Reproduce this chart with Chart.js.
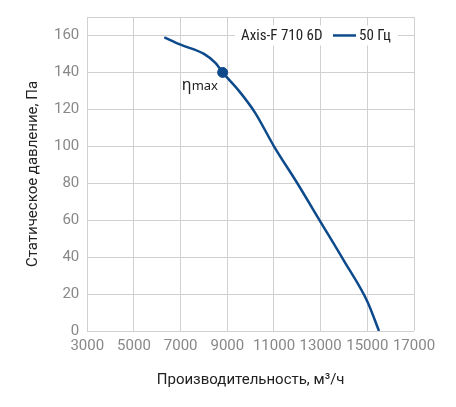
<!DOCTYPE html>
<html>
<head>
<meta charset="utf-8">
<script src="https://cdn.jsdelivr.net/npm/chart.js@4"></script>
<style>
body { margin: 0; background: #fff; }
#wrap { width: 456px; height: 407px; }
</style>
</head>
<body>
<div id="wrap"><canvas id="chart"></canvas></div>
<script>
const flowValues = [6300, 7000, 8000, 8500, 8800, 9500, 10200, 11000, 12000, 13000, 14000, 15000, 15500];
const pressureValues = [159, 155, 150, 145, 140, 130, 118, 100, 80, 59, 38, 16, 0];
const etaPoint = { x: 8800, y: 140 };
const seriesName = 'Axis-F 710 6D';
const seriesLabel = '50 Гц';

const overlay = {
  id: 'overlay',
  afterDatasetsDraw(chart) {
    const ctx = chart.ctx;
    const xs = chart.scales.x, ys = chart.scales.y;
    ctx.save();
    ctx.fillStyle = '#222';
    ctx.font = '16px "Noto Sans"';
    ctx.textBaseline = 'middle';
    const ex = xs.getPixelForValue(etaPoint.x), ey = ys.getPixelForValue(etaPoint.y);
    ctx.fillText('η', ex - 41, ey + 13);
    ctx.font = '13px "Noto Sans"';
    ctx.fillText('max', ex - 31, ey + 14);
    const ly = ys.getPixelForValue(160);
    ctx.fillStyle = '#fff';
    ctx.fillRect(235, ly - 10, 163, 20);
    ctx.fillStyle = '#222';
    ctx.font = '15px "Roboto Condensed", "Liberation Sans Narrow", Roboto';
    ctx.fillText(seriesName, 241, ly + 1);
    ctx.strokeStyle = '#0d4a8c';
    ctx.lineWidth = 2.5;
    ctx.beginPath();
    ctx.moveTo(333, ly); ctx.lineTo(356, ly); ctx.stroke();
    ctx.fillText(seriesLabel, 359, ly + 1);
    ctx.restore();
  }
};

new Chart(document.getElementById('chart'), {
  type: 'scatter',
  data: {
    datasets: [{
      data: flowValues.map((x, i) => ({ x, y: pressureValues[i] })),
      showLine: true,
      borderColor: '#0d4a8c',
      borderWidth: 2.5,
      pointRadius: 0,
      cubicInterpolationMode: 'monotone'
    }, {
      data: [etaPoint],
      pointRadius: 5,
      backgroundColor: '#0d4a8c',
      borderColor: '#0d4a8c'
    }]
  },
  options: {
    responsive: true,
    maintainAspectRatio: false,
    animation: false,
    layout: { padding: { top: 10, right: 42, left: 20, bottom: 14 } },
    plugins: { legend: { display: false }, tooltip: { enabled: false } },
    scales: {
      x: {
        min: 3000, max: 17000,
        ticks: { stepSize: 2000, color: '#888', font: { size: 15, family: 'Roboto' }, maxRotation: 0, padding: 6, callback: v => v },
        grid: { color: '#d0d0d0', drawTicks: false },
        border: { display: false },
        title: { display: true, text: 'Производительность, м³/ч', color: '#222', font: { size: 15, family: 'Roboto' }, padding: { top: 10 } }
      },
      y: {
        min: 0, max: 170,
        afterBuildTicks(s) { s.ticks = [0,20,40,60,80,100,120,140,160,170].map(v => ({ value: v })); },
        ticks: { color: '#888', font: { size: 15, family: 'Roboto' }, padding: 8, callback: v => v === 170 ? '' : v },
        grid: { color: '#d0d0d0', drawTicks: false },
        border: { display: false },
        title: { display: true, text: 'Статическое давление, Па', color: '#222', font: { size: 15, family: 'Roboto' } }
      }
    }
  },
  plugins: [overlay]
});
</script>
</body>
</html>
